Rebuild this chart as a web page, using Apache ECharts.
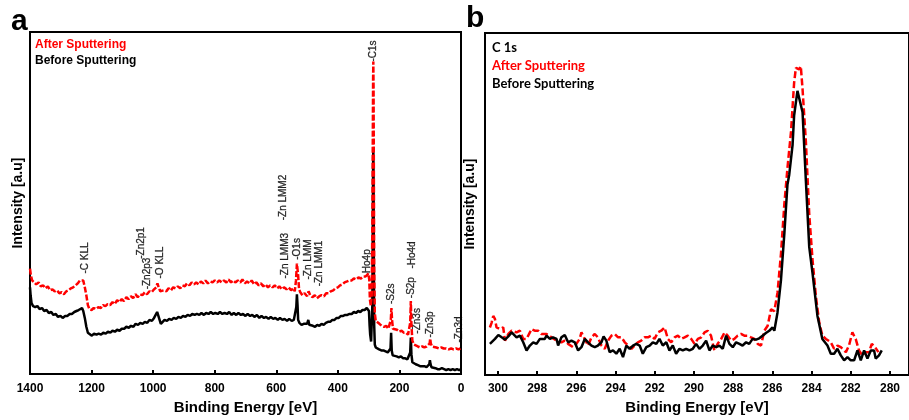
<!DOCTYPE html>
<html><head><meta charset="utf-8">
<script src="https://cdn.jsdelivr.net/npm/echarts@6/dist/echarts.min.js"></script>
<style>html,body{margin:0;padding:0;background:#fff}#c{width:909px;height:420px}</style>
</head><body><div id="c"></div>
<script>
// Survey spectrum (panel a): [binding energy eV, intensity a.u.]
const surveyAfter = [[1400,107],[1397,100],[1393,95],[1388,93],[1380,91],[1372,93],[1365,89],[1357,90],[1350,87],[1342,89],[1335,85],[1327,86],[1320,84],[1312,85],[1305,82],[1297,83],[1290,81],[1282,84],[1275,85],[1267,87],[1260,88],[1252,90],[1245,92],[1238,95],[1232,97],[1227,95],[1222,88],[1217,80],[1212,70],[1207,66],[1200,65],[1193,67],[1185,66],[1178,68],[1170,67],[1163,70],[1155,69],[1148,71],[1140,70],[1132,73],[1125,71],[1117,75],[1110,73],[1102,76],[1095,74],[1087,78],[1080,76],[1072,79],[1065,77],[1057,81],[1050,78],[1042,81],[1035,80],[1027,83],[1020,81],[1012,84],[1005,83],[997,86],[990,88],[986,92],[982,88],[977,84],[972,82],[965,85],[957,84],[950,87],[942,85],[935,88],[927,87],[920,89],[912,87],[905,90],[897,89],[890,92],[882,90],[875,93],[867,91],[860,93],[852,91],[845,94],[837,92],[830,95],[822,92],[815,94],[807,93],[800,95],[792,93],[785,95],[777,93],[770,95],[762,93],[755,96],[747,93],[740,95],[732,93],[725,95],[717,93],[710,96],[702,92],[695,94],[687,92],[680,95],[672,91],[665,93],[657,90],[650,92],[642,89],[635,91],[627,88],[620,90],[612,88],[605,90],[597,87],[590,89],[582,86],[575,88],[567,86],[560,88],[552,85],[545,87],[540,84],[536,95],[533,112],[531,114],[529,100],[526,86],[522,83],[515,80],[508,82],[500,79],[495,84],[490,80],[483,78],[475,80],[468,77],[460,79],[453,80],[445,79],[438,82],[430,82],[423,84],[415,85],[408,87],[400,88],[393,90],[385,91],[378,93],[370,94],[363,95],[355,95],[348,97],[340,96],[333,98],[325,97],[318,99],[310,99],[305,101],[301,102],[298,96],[296,76],[293,69],[290,80],[288,150],[286.5,240],[285.5,300],[284.8,317],[284,290],[283,200],[282,110],[280,62],[277,54],[272,52],[265,51],[258,49],[250,48],[243,49],[236,46],[231,47],[228,55],[226,67],[224,55],[221,46],[215,44],[208,45],[200,43],[193,44],[186,42],[179,42],[172,40],[168,38],[165,52],[163,74],[161,50],[158,34],[153,30],[147,28],[140,28],[133,27],[126,28],[119,27],[112,28],[106,27],[102,31],[100,36],[98,31],[94,28],[88,27],[80,27],[72,26],[64,27],[56,26],[48,26],[40,25],[32,26],[24,25],[16,26],[8,25],[2,26]];
const surveyBefore = [[1400,88],[1398,80],[1395,72],[1390,69],[1383,68],[1376,69],[1369,66],[1361,67],[1354,64],[1346,65],[1339,62],[1331,63],[1324,60],[1316,61],[1309,58],[1301,59],[1294,57],[1286,59],[1279,59],[1271,61],[1264,61],[1256,63],[1249,64],[1242,65],[1236,66],[1231,67],[1227,64],[1222,57],[1217,48],[1212,42],[1206,40],[1199,39],[1192,41],[1184,40],[1177,41],[1169,40],[1162,42],[1154,41],[1147,43],[1139,42],[1132,44],[1124,43],[1117,45],[1109,44],[1102,46],[1094,46],[1087,48],[1079,47],[1072,49],[1064,48],[1057,51],[1049,50],[1042,52],[1034,51],[1027,53],[1019,52],[1012,55],[1004,54],[997,57],[992,58],[987,63],[983,61],[979,55],[975,51],[970,52],[963,55],[955,54],[948,56],[940,55],[933,57],[925,56],[918,58],[910,57],[903,59],[895,58],[888,60],[880,59],[873,61],[865,60],[858,61],[850,60],[843,62],[835,60],[828,62],[820,61],[813,63],[805,61],[798,62],[790,61],[783,63],[775,61],[768,62],[760,61],[753,63],[745,60],[738,62],[730,60],[723,62],[715,60],[708,61],[700,59],[693,61],[685,59],[678,60],[670,58],[663,60],[655,57],[648,59],[640,57],[633,58],[625,56],[618,58],[610,56],[603,57],[595,55],[588,57],[580,55],[573,56],[565,54],[558,56],[550,54],[543,55],[538,57],[535,68],[533,81],[531,70],[529,55],[525,52],[518,50],[511,51],[505,49],[500,51],[496,55],[493,50],[488,48],[481,49],[474,48],[467,50],[460,49],[453,51],[446,50],[439,52],[432,53],[425,53],[418,55],[411,55],[404,57],[397,57],[390,59],[383,59],[376,60],[369,60],[362,61],[355,61],[348,63],[341,62],[334,64],[327,63],[320,65],[313,65],[306,67],[302,68],[299,64],[297,50],[295,40],[292,33],[290,34],[288,70],[286.5,150],[285.5,210],[284.8,229],[284,200],[283,110],[282,50],[280,30],[277,27],[272,26],[266,25],[259,24],[252,24],[245,23],[238,22],[232,21],[229,26],[227,42],[225,24],[222,19],[216,18],[209,18],[202,17],[195,18],[188,16],[181,16],[174,15],[168,14],[165,22],[163,37],[161,20],[158,12],[153,11],[147,10],[140,9],[133,8],[126,8],[119,8],[112,7],[106,7],[103,10],[101,14],[99,10],[96,7],[90,6],[83,6],[76,5],[69,5],[62,6],[55,5],[48,4],[41,5],[34,4],[27,5],[20,4],[13,5],[6,4],[2,5]];

// C 1s high resolution (panel b)
const c1sAfter = [[300.41,48.3],[300.32,53.3],[300.24,60],[300.15,56.7],[300.07,48.3],[299.90,46.7],[299.73,48.3],[299.64,35],[299.47,41.7],[299.30,45],[299.22,46.7],[299.05,43.3],[298.88,45],[298.71,36.7],[298.54,36.7],[298.37,43.3],[298.29,46.7],[298.12,45],[297.95,45],[297.78,41.7],[297.52,41.7],[297.27,38.3],[297.01,35],[296.76,33.3],[296.59,35],[296.42,31.7],[296.17,28.3],[296.00,31.7],[295.83,36.7],[295.74,43.3],[295.57,36.7],[295.40,30],[295.23,38.3],[295.06,41.7],[294.90,38.3],[294.72,30],[294.55,26.7],[294.38,35],[294.21,40],[294.04,41.7],[293.87,38.3],[293.70,38.3],[293.53,33.3],[293.36,30],[293.19,26.7],[293.03,30],[292.86,33.3],[292.69,35],[292.52,38.3],[292.35,38.3],[292.18,40],[292.01,36.7],[291.84,43.3],[291.67,45],[291.50,48.3],[291.33,36.7],[291.16,33.3],[290.99,38.3],[290.82,40],[290.65,36.7],[290.48,38.3],[290.31,40],[290.14,36.7],[289.97,31.7],[289.80,36.7],[289.63,38.3],[289.46,43.3],[289.30,45],[289.13,40],[288.96,25],[288.79,31.7],[288.61,36.7],[288.44,43.3],[288.28,40],[288.10,35],[287.94,36.7],[287.77,40],[287.60,41.7],[287.43,40],[287.26,40],[287.09,38.3],[286.92,36.7],[286.75,31.7],[286.58,30],[286.41,45],[286.24,50],[286.07,66.7],[285.90,65],[285.74,83.3],[285.56,123.3],[285.39,173.3],[285.23,210],[285.05,246.7],[284.89,296.7],[284.80,311.7],[284.63,310],[284.55,313.3],[284.46,290],[284.29,236.7],[284.12,163.3],[283.95,116.7],[283.78,80],[283.61,53.3],[283.45,40],[283.27,36.7],[283.02,33.3],[282.85,26.7],[282.68,30],[282.51,28.3],[282.25,23.3],[282.09,30],[281.92,43.3],[281.75,36.7],[281.58,25],[281.41,20],[281.24,23.3],[281.07,23.3],[280.93,31.7],[280.76,28.3],[280.59,23.3]];
const c1sBefore = [[300.41,31.7],[300.15,36.7],[299.98,40.7],[299.81,38.3],[299.64,36],[299.47,39.3],[299.30,43.3],[299.22,44],[299.05,38.3],[298.88,40],[298.71,33.3],[298.54,25],[298.37,30],[298.20,33.3],[298.03,31.7],[297.86,36.7],[297.78,38.3],[297.61,36.7],[297.52,40],[297.35,36.7],[297.19,38.3],[297.01,36.7],[296.93,30],[296.76,38.3],[296.59,40.7],[296.42,33.3],[296.25,35],[296.08,33.3],[295.91,25],[295.74,28.3],[295.57,36.7],[295.40,33.3],[295.23,30],[295.06,28.3],[294.90,30],[294.72,33.3],[294.61,39.3],[294.47,35],[294.30,23.3],[294.13,25],[293.96,21.7],[293.79,26.7],[293.62,18.3],[293.45,30],[293.28,26.7],[293.11,30],[292.94,31.7],[292.77,30],[292.61,21.7],[292.43,28.3],[292.26,30],[292.10,33.3],[291.92,31.7],[291.76,36.7],[291.59,30],[291.41,33.3],[291.25,25],[291.08,30],[290.91,21.7],[290.74,26.7],[290.57,25],[290.40,26.7],[290.23,25],[290.06,26.7],[289.89,31.7],[289.72,26.7],[289.55,30],[289.38,35],[289.21,25],[289.04,30],[288.87,28.3],[288.70,30],[288.53,26.7],[288.36,40],[288.19,31.7],[288.02,28.3],[287.85,33.3],[287.68,31.7],[287.52,30],[287.34,33.3],[287.18,31.7],[287.01,36.7],[286.83,36],[286.67,37.3],[286.50,40],[286.33,42.7],[286.16,45],[285.99,48.3],[285.90,45],[285.74,63.3],[285.56,96.7],[285.39,143.3],[285.23,193.3],[285.14,203.3],[284.97,233.3],[284.89,263.3],[284.72,288.3],[284.46,266.7],[284.29,196.7],[284.12,130],[283.95,103.3],[283.70,60],[283.45,36.7],[283.19,30],[283.02,21.7],[282.85,21.7],[282.68,26.7],[282.51,20],[282.34,15],[282.17,18.3],[282.00,15],[281.83,15],[281.66,25],[281.49,15],[281.32,25],[281.15,16.7],[280.98,25],[280.81,25],[280.73,16.7],[280.56,20],[280.42,25]];

// Peak annotations (panel a)
const peakNames = ['-C KLL','-Zn2p3','-Zn2p1','-O KLL','-Zn LMM3','-Zn LMM2','-O1s','-Zn LMM','-Zn LMM1','-Ho4p','-C1s','-S2s','-S2p','-Ho4d','-Zn3s','-Zn3p','-Zn3d'];
const peakEnergies = [1221,1020,1040,978,572,578,533,497,461,305,286,227,162,159,143,100,6];
const peakLabelHeights = [102,86,117,97,97,156,116,96,89,99,317,71,77,107,41,37,32];

const c1sTicks = [300,298,296,294,292,290,288,286,284,282,280];

const FONT = "'Liberation Sans', Arial, Helvetica, sans-serif";
const chart = echarts.init(document.getElementById('c'));

const axisLine = {show:true, lineStyle:{color:'#000', width:2}};
const option = {
  animation:false,
  backgroundColor:'#fff',
  grid:[
    {left:30, top:32, width:431, height:347, show:true, borderColor:'#000', borderWidth:2},
    {left:485, top:33, width:425, height:347, show:true, borderColor:'#000', borderWidth:2}
  ],
  xAxis:[
    {gridIndex:0, type:'value', min:0, max:1400, interval:200, inverse:true,
     axisLine, axisTick:{show:true, inside:true, length:4, lineStyle:{width:2,color:'#000'}},
     splitLine:{show:false},
     axisLabel:{color:'#000', fontFamily:FONT, fontWeight:'bold', fontSize:12, margin:9, formatter:v=>String(v)},
     name:'Binding Energy [eV]', nameLocation:'middle', nameGap:25,
     nameTextStyle:{color:'#000', fontFamily:FONT, fontWeight:'bold', fontSize:15}},
    {gridIndex:1, type:'value', min:279.03, max:300.66, inverse:true,
     axisLine, axisTick:{show:true, inside:true, length:4, lineStyle:{width:2,color:'#000'}, customValues:c1sTicks},
     splitLine:{show:false},
     axisLabel:{color:'#000', fontFamily:FONT, fontWeight:'bold', fontSize:12, margin:8, customValues:c1sTicks, formatter:v=>String(v)},
     name:'Binding Energy [eV]', nameLocation:'middle', nameGap:24,
     nameTextStyle:{color:'#000', fontFamily:FONT, fontWeight:'bold', fontSize:15}}
  ],
  yAxis:[
    {gridIndex:0, type:'value', min:0, max:347, axisLine, axisTick:{show:false}, axisLabel:{show:false}, splitLine:{show:false},
     name:'Intensity [a.u]', nameLocation:'middle', nameGap:5,
     nameTextStyle:{color:'#000', fontFamily:FONT, fontWeight:'bold', fontSize:14}},
    {gridIndex:1, type:'value', min:0, max:347, axisLine, axisTick:{show:false}, axisLabel:{show:false}, splitLine:{show:false},
     name:'Intensity [a.u]', nameLocation:'middle', nameGap:8,
     nameTextStyle:{color:'#000', fontFamily:FONT, fontWeight:'bold', fontSize:14}}
  ],
  series:[
    {type:'line', xAxisIndex:0, yAxisIndex:0, data:surveyBefore, showSymbol:false, symbol:'none',
     lineStyle:{color:'#000', width:2.5}},
    {type:'line', xAxisIndex:0, yAxisIndex:0, data:surveyAfter, showSymbol:false, symbol:'none',
     lineStyle:{color:'#ff0000', width:2.5, type:[6,2]}},
    {type:'scatter', xAxisIndex:0, yAxisIndex:0, symbolSize:0, silent:true,
     data: peakNames.map((n,i)=>({value:[peakEnergies[i], peakLabelHeights[i]], name:n})),
     label:{show:true, position:'inside', rotate:90, align:'left', verticalAlign:'middle',
       formatter:p=>p.name, color:'#000', fontFamily:FONT, fontSize:10, textBorderColor:'#000', textBorderWidth:0.3}},
    {type:'line', xAxisIndex:1, yAxisIndex:1, data:c1sAfter, showSymbol:false, symbol:'none',
     lineStyle:{color:'#ff0000', width:2.5, type:[7,3]}},
    {type:'line', xAxisIndex:1, yAxisIndex:1, data:c1sBefore, showSymbol:false, symbol:'none',
     lineStyle:{color:'#000', width:2.5}}
  ],
  graphic:[
    {type:'text', x:11, y:22, style:{text:'a', font:"bold 30px "+FONT, fill:'#000', verticalAlign:'middle'}},
    {type:'text', x:466, y:19, style:{text:'b', font:"bold 30px "+FONT, fill:'#000', verticalAlign:'middle'}},
    {type:'text', x:35, y:45, style:{text:'After Sputtering', font:"bold 12px "+FONT, fill:'#ff0000', verticalAlign:'middle'}},
    {type:'text', x:35, y:61, style:{text:'Before Sputtering', font:"bold 12px "+FONT, fill:'#000', verticalAlign:'middle'}},
    {type:'text', x:492, y:48, style:{text:'C 1s', font:"bold 13px Lato, 'Open Sans', sans-serif", fill:'#000', verticalAlign:'middle'}},
    {type:'text', x:492, y:66, style:{text:'After Sputtering', font:"bold 13px Lato, 'Open Sans', sans-serif", fill:'#ff0000', verticalAlign:'middle'}},
    {type:'text', x:492, y:84, style:{text:'Before Sputtering', font:"bold 13px Lato, 'Open Sans', sans-serif", fill:'#000', verticalAlign:'middle'}}
  ]
};
chart.setOption(option);
</script></body></html>
